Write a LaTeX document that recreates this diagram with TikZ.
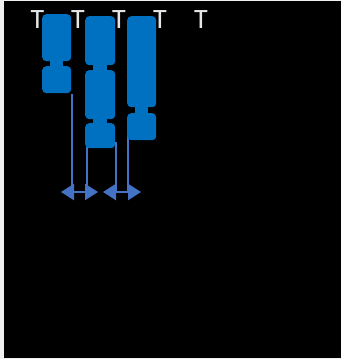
\documentclass[tikz,border=0pt]{standalone}
\usepackage{fontspec}
\setmainfont{Carlito}
\usetikzlibrary{arrows.meta}
\definecolor{bgout}{HTML}{F0F0F0}
\definecolor{blk}{HTML}{0070C0}
\definecolor{ln}{HTML}{4472C4}
\definecolor{tc}{HTML}{E6E6E6}
\begin{document}
\begin{tikzpicture}[x=1pt,y=-1pt,
  seg/.style={fill=blk, rounded corners=4pt, inner sep=0pt, anchor=north west},
  neck/.style={fill=blk},
  lbl/.style={text=tc, font=\fontsize{28}{30}\selectfont, anchor=base, inner sep=0pt},
  vline/.style={draw=ln, line width=2.4pt},
  dim/.style={draw=ln, line width=2.4pt, {Triangle[length=13pt,width=16pt]}-{Triangle[length=13pt,width=16pt]}}]
\useasboundingbox[fill=bgout] (0,0) rectangle (341,359);
\fill[black] (4,1) rectangle (341,358);
% labels
\foreach \x/\n in {37.5/t1,78/t2,119/t3,160/t4,201/t5}
  \node[lbl] (\n) at (\x,28) {T};
% connector lines (behind blocks)
\coordinate (l1s) at (72,94);  \coordinate (l1e) at (72,192);
\coordinate (l2s) at (87,147); \coordinate (l2e) at (87,192);
\coordinate (l3s) at (116,142); \coordinate (l3e) at (116,192);
\coordinate (l4s) at (128,135); \coordinate (l4e) at (128,192);
\draw[vline] (l1s) -- (l1e);
\draw[vline] (l2s) -- (l2e);
\draw[vline] (l3s) -- (l3e);
\draw[vline] (l4s) -- (l4e);
% double arrows
\coordinate (a1l) at (61,192); \coordinate (a1r) at (98,192);
\coordinate (a2l) at (103,192); \coordinate (a2r) at (141,192);
\draw[dim] (a1l) -- (a1r);
\draw[dim] (a2l) -- (a2r);
% necks
\fill[neck] (50,58) rectangle (63,69);
\fill[neck] (93,62) rectangle (107,73);
\fill[neck] (93,116) rectangle (107,126);
\fill[neck] (135,104) rectangle (148,116);
% column 1
\node[seg, minimum width=29pt, minimum height=47pt] (c1a) at (42,14) {};
\node[seg, minimum width=29pt, minimum height=27pt] (c1b) at (42,66) {};
% column 2
\node[seg, minimum width=30pt, minimum height=49pt] (c2a) at (85,16) {};
\node[seg, minimum width=30pt, minimum height=49pt] (c2b) at (85,70) {};
\node[seg, minimum width=30pt, minimum height=25pt] (c2c) at (85,123) {};
% column 3
\node[seg, minimum width=29pt, minimum height=91pt] (c3a) at (127,16) {};
\node[seg, minimum width=29pt, minimum height=27pt] (c3b) at (127,113) {};
\end{tikzpicture}
\end{document}
